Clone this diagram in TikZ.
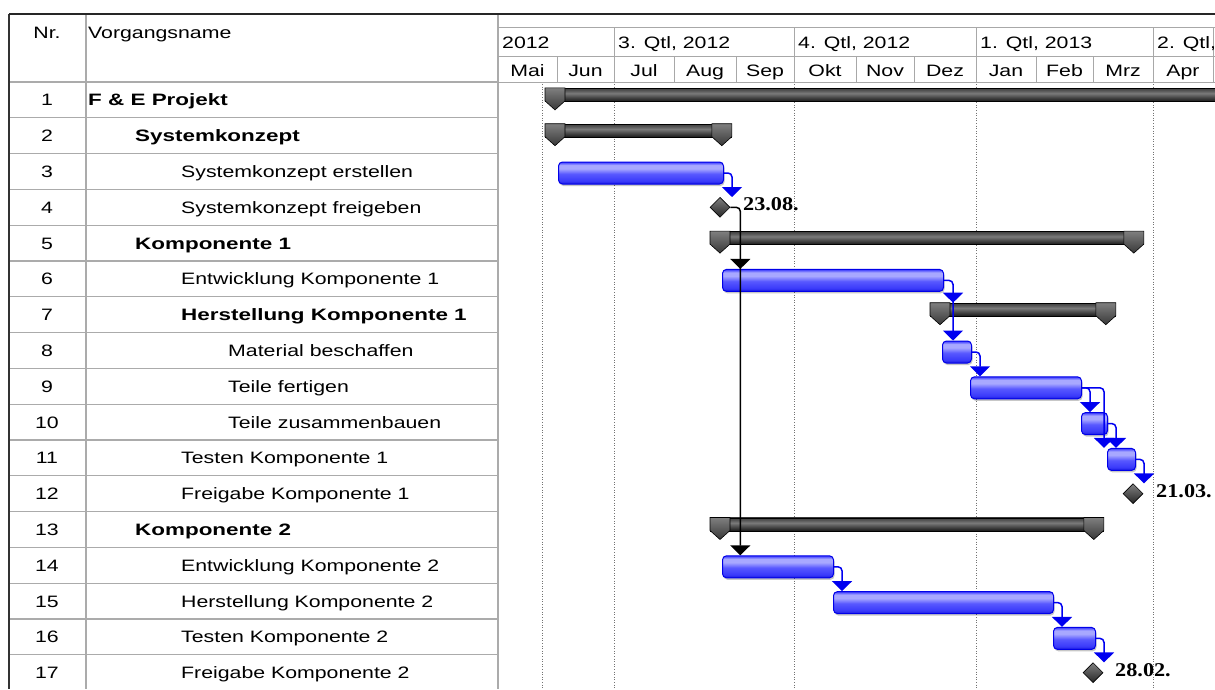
\documentclass[tikz,border=0pt]{standalone}
\usepackage{fontspec}
\setmainfont{Liberation Sans}
\newfontfamily\tabfont[FakeStretch=1.29]{Liberation Sans}
\newfontfamily\tabboldfont[FakeStretch=1.36]{Liberation Sans}
\newfontfamily\datefont[FakeStretch=1.14]{Liberation Serif}
\usetikzlibrary{arrows.meta,shapes.geometric,shadows}
\definecolor{tb1}{HTML}{A8A8FF}
\definecolor{tb2}{HTML}{5858FF}
\definecolor{tb3}{HTML}{3A3AFA}
\definecolor{tb4}{HTML}{1818E0}
\definecolor{tblue}{HTML}{0000E8}
\definecolor{lblue}{HTML}{0000F0}
\definecolor{s1}{HTML}{1A1A1A}
\definecolor{s2}{HTML}{404040}
\definecolor{s3}{HTML}{7A7A7A}
\definecolor{s4}{HTML}{585858}
\definecolor{gridc}{HTML}{A8A8A8}
\definecolor{linec}{HTML}{ABABAB}
\pgfdeclareverticalshading{taskshade}{100bp}{color(0bp)=(tb4); color(25bp)=(tb4); color(32bp)=(tb3); color(48bp)=(tb2); color(60bp)=(tb1); color(68bp)=(tb1); color(73bp)=(tb2); color(75bp)=(tb3); color(100bp)=(tb3)}
\pgfdeclareverticalshading{sumshade}{100bp}{color(0bp)=(s1); color(25bp)=(s1); color(38bp)=(s2); color(56bp)=(s3); color(66bp)=(s4); color(75bp)=(s2); color(100bp)=(s2)}
\newcommand\txtr{\tabfont\fontsize{16.5}{20}\selectfont}
\newcommand\txtb{\tabboldfont\bfseries\fontsize{16.5}{20}\selectfont}
\newcommand\txtd{\datefont\bfseries\fontsize{19.5}{23}\selectfont}
\tikzset{
  rtxt/.style={font=\txtr, inner sep=0pt},
  rbold/.style={font=\txtb, inner sep=0pt},
  datelbl/.style={font=\txtd, inner sep=0pt, anchor=base west},
  task/.style={draw=tblue, line width=1pt, shade, shading=taskshade, rounded corners=4pt,
    minimum height=22pt, inner sep=0pt, anchor=north west,
    drop shadow={shadow xshift=1pt, shadow yshift=-2pt, fill=black, opacity=0.22}},
  sumbar/.style={draw=black, line width=0.8pt, shade, shading=sumshade,
    minimum height=13pt, inner sep=0pt, anchor=north west},
  sumcap/.style={draw=black, line width=0.6pt, top color=black!50, bottom color=black!78},
  mile/.style={diamond, draw=black, line width=0.6pt, top color=black!50, bottom color=black!85,
    minimum width=20pt, minimum height=20pt, inner sep=0pt},
  link/.style={draw=lblue, line width=1.5pt, rounded corners=4pt, -{Triangle[width=20pt,length=10pt]}},
  blink/.style={link, draw=black},
  tline/.style={draw=linec, line width=1.1pt},
  hline/.style={draw=gridc, line width=1pt},
  dgrid/.style={draw=black!55, line width=1pt, dash pattern=on 1pt off 1.6pt},
}
\begin{document}
\begin{tikzpicture}[x=1pt,y=-1pt]
\useasboundingbox (0,0) rectangle (1215,689);
\clip (0,0) rectangle (1215,689);
\fill[white] (0,0) rectangle (1215,689);

% dotted grid lines in the chart
\foreach \gx in {542,614,794,976,1153} \draw[dgrid] (\gx,84) -- (\gx,689);

% table lines
\foreach \k in {0,...,17} \draw[tline] (9,{82+\k*35.8}) -- (498,{82+\k*35.8});
\draw[tline] (86,14) -- (86,689);
\draw[tline] (498,14) -- (498,689);
\draw[draw=black!80, line width=2.5pt] (9,14) -- (9,689);

% chart header
\draw[hline] (498,27) -- (1215,27);
\draw[hline] (498,56) -- (1215,56);
\draw[hline] (498,82) -- (1215,82);
\foreach \qx in {614,794,976,1153,1213} \draw[hline] (\qx,27) -- (\qx,82);
\foreach \mx in {557,674,736,856,914,1036,1093} \draw[hline] (\mx,56) -- (\mx,82);
\draw[draw=black!85, line width=1.5pt] (9,14) -- (1215,14);

% header texts
\node[rtxt, anchor=base] (hnr) at (47,38) {Nr.};
\node[rtxt, anchor=base west] (hname) at (88,38) {Vorgangsname};
\node[rtxt, anchor=base west] (q1) at (502,48) {2012};
\node[rtxt, anchor=base west] (q2) at (618,48) {3. Qtl, 2012};
\node[rtxt, anchor=base west] (q3) at (798,48) {4. Qtl, 2012};
\node[rtxt, anchor=base west] (q4) at (980,48) {1. Qtl, 2013};
\node[rtxt, anchor=base west] (q5) at (1157,48) {2. Qtl,};
\foreach \mx/\mn [count=\mi] in {527.5/Mai,585.5/Jun,644/Jul,705/Aug,765/Sep,825/Okt,885/Nov,945/Dez,1006/Jan,1064.5/Feb,1123/Mrz,1183/Apr}
  \node[rtxt, anchor=base] (mo\mi) at (\mx,76) {\mn};

% row numbers
\foreach \k in {1,...,17} \node[rtxt, anchor=base] (nr\k) at (47,{82+(\k-0.5)*35.8+6}) {\k};

% task names
\node[rbold, anchor=base west] (n1) at (88,105.9) {F \& E Projekt};
\node[rbold, anchor=base west] (n2) at (135,141.7) {Systemkonzept};
\node[rtxt, anchor=base west] (n3) at (181,177.5) {Systemkonzept erstellen};
\node[rtxt, anchor=base west] (n4) at (181,213.3) {Systemkonzept freigeben};
\node[rbold, anchor=base west] (n5) at (135,249.1) {Komponente 1};
\node[rtxt, anchor=base west] (n6) at (181,284.9) {Entwicklung Komponente 1};
\node[rbold, anchor=base west] (n7) at (181,320.7) {Herstellung Komponente 1};
\node[rtxt, anchor=base west] (n8) at (228,356.5) {Material beschaffen};
\node[rtxt, anchor=base west] (n9) at (228,392.3) {Teile fertigen};
\node[rtxt, anchor=base west] (n10) at (228,428.1) {Teile zusammenbauen};
\node[rtxt, anchor=base west] (n11) at (181,463.9) {Testen Komponente 1};
\node[rtxt, anchor=base west] (n12) at (181,499.7) {Freigabe Komponente 1};
\node[rbold, anchor=base west] (n13) at (135,535.5) {Komponente 2};
\node[rtxt, anchor=base west] (n14) at (181,571.3) {Entwicklung Komponente 2};
\node[rtxt, anchor=base west] (n15) at (181,607.1) {Herstellung Komponente 2};
\node[rtxt, anchor=base west] (n16) at (181,642.9) {Testen Komponente 2};
\node[rtxt, anchor=base west] (n17) at (181,678.7) {Freigabe Komponente 2};

% summary bars
\node[sumbar, minimum width=700pt] (s1) at (545,87.9) {};
\node[sumbar, minimum width=186pt] (s2) at (545,123.7) {};
\node[sumbar, minimum width=433pt] (s5) at (710,231.1) {};
\node[sumbar, minimum width=185pt] (s7) at (930,302.7) {};
\node[sumbar, minimum width=393pt] (s13) at (710,517.5) {};
\foreach \s in {s1,s2,s5,s7,s13}
  \draw[sumcap] (\s.north west) -- ++(20,0) -- ++(0,13) -- ++(-10,9) -- ++(-10,-9) -- cycle;
\foreach \s in {s2,s5,s7,s13}
  \draw[sumcap] (\s.north east) -- ++(-20,0) -- ++(0,13) -- ++(10,9) -- ++(10,-9) -- cycle;

% task bars
\node[task, minimum width=165pt] (t3) at (558,161.5) {};
\node[task, minimum width=221pt] (t6) at (722,268.9) {};
\node[task, minimum width=29pt] (t8) at (942,340.5) {};
\node[task, minimum width=111pt] (t9) at (970,376.3) {};
\node[task, minimum width=26pt] (t10) at (1081,412.1) {};
\node[task, minimum width=28pt] (t11) at (1107,447.9) {};
\node[task, minimum width=111pt] (t14) at (722,555.3) {};
\node[task, minimum width=220pt] (t15) at (833,591.1) {};
\node[task, minimum width=42pt] (t16) at (1053,626.9) {};

% milestones
\node[mile] (m4) at (720,207.3) {};
\node[mile] (m12) at (1133,493.7) {};
\node[mile] (m17) at (1093,672.7) {};
\node[datelbl] (d4) at (743,210.5) {23.08.};
\node[datelbl] (d12) at (1156,497) {21.03.};
\node[datelbl] (d17) at (1115,676) {28.02.};

% connectors
\coordinate (e3) at ([xshift=8pt]t3.east);
\coordinate (e6) at ([xshift=9pt]t6.east);
\coordinate (e8) at ([xshift=8pt]t8.east);
\coordinate (e9a) at ([xshift=8pt]t9.east);
\coordinate (e9b) at ([xshift=22pt]t9.east);
\coordinate (e10) at ([xshift=8pt]t10.east);
\coordinate (e11) at ([xshift=8pt]t11.east);
\coordinate (e14) at ([xshift=8pt]t14.east);
\coordinate (e15) at ([xshift=8pt]t15.east);
\coordinate (e16) at ([xshift=8pt]t16.east);
\coordinate (e4) at ([xshift=10pt]m4.east);

\draw[link] (t3.east) -- (e3) -- (e3 |- m4.north);
\draw[link] (t6.east) -- (e6) -- (e6 |- t8.north);
\coordinate (a7) at (e6 |- s7.north);
\draw[link] ([yshift=10pt]a7) -- (a7);
\draw[link] (t8.east) -- (e8) -- (e8 |- t9.north);
\draw[link] (t9.east) -- (e9b) -- (e9b |- t11.north);
\draw[link] (t9.east) -- (e9a) -- (e9a |- t10.north);
\draw[link] (t10.east) -- (e10) -- (e10 |- t11.north);
\draw[link] (t11.east) -- (e11) -- (e11 |- m12.north);
\draw[link] (t14.east) -- (e14) -- (e14 |- t15.north);
\draw[link] (t15.east) -- (e15) -- (e15 |- t16.north);
\draw[link] (t16.east) -- (e16) -- (e16 |- m17.north);
\draw[blink] (m4.east) -- (e4) -- (e4 |- t14.north);
\coordinate (a6) at (e4 |- t6.north);
\draw[blink] ([yshift=10pt]a6) -- (a6);
\end{tikzpicture}
\end{document}
